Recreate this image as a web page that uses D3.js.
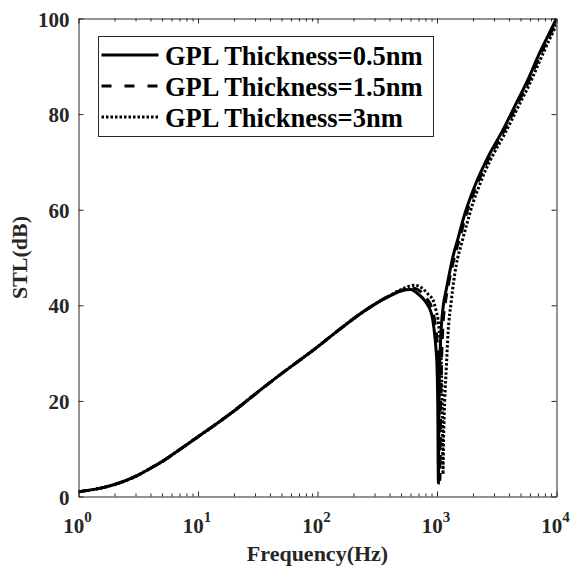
<!DOCTYPE html>
<html>
<head>
<meta charset="utf-8">
<script src="https://cdn.jsdelivr.net/npm/d3@7"></script>
<style>
  html, body { margin: 0; padding: 0; background: #fff; }
  svg { display: block; }
  text { font-family: "Liberation Serif", "Times New Roman", serif; font-weight: bold; }
</style>
</head>
<body>
<svg id="chart" width="572" height="568"></svg>
<script>
// Sound transmission loss vs. frequency for three GPL thicknesses
const seriesNames = ["GPL Thickness=0.5nm", "GPL Thickness=1.5nm", "GPL Thickness=3nm"];

const freqThin = [1, 1.5, 2, 3, 4, 5, 7, 10, 15, 20, 30, 50, 70, 100, 150, 200, 300, 400, 500, 600,
  700, 800, 900, 950, 980, 1000, 1015, 1027, 1035, 1045, 1065, 1090, 1130, 1200, 1360, 1500,
  1702, 1900, 2129, 2400, 2748, 3548, 4446, 5741, 7190, 8300, 10000];
const stlThin = [1.0, 1.7, 2.5, 4.2, 5.9, 7.3, 9.8, 12.5, 15.6, 17.9, 21.4, 25.7, 28.4, 31.3, 34.8, 37.2, 40.2, 41.9, 43.0, 43.3,
  42.3, 40.8, 38.2, 34.5, 31.0, 27.2, 19.0, 2.8, 14.0, 24.0, 31.0, 36.0, 40.0, 43.5, 50.2, 54.0,
  59.0, 62.5, 65.7, 68.6, 71.6, 76.6, 81.5, 87.1, 92.7, 95.9, 100];

const freqMid = [1, 1.5, 2, 3, 4, 5, 7, 10, 15, 20, 30, 50, 70, 100, 150, 200, 300, 400, 500, 620,
  720, 820, 900, 960, 1000, 1025, 1045, 1058, 1068, 1080, 1100, 1125, 1170, 1240, 1400, 1545,
  1753, 1957, 2193, 2472, 2830, 3654, 4580, 5913, 7406, 8550, 10000];
const stlMid = [1.0, 1.7, 2.5, 4.2, 5.9, 7.3, 9.8, 12.5, 15.6, 17.9, 21.4, 25.7, 28.4, 31.3, 34.8, 37.2, 40.2, 42.0, 43.1, 43.6,
  43.0, 41.4, 39.6, 36.5, 32.5, 27.0, 17.0, 3.5, 14.0, 23.0, 31.0, 36.3, 40.3, 44.0, 50.2, 54.0,
  59.0, 62.5, 65.7, 68.6, 71.6, 76.6, 81.5, 87.1, 92.7, 95.9, 99.4];

const freqThick = [1, 1.5, 2, 3, 4, 5, 7, 10, 15, 20, 30, 50, 70, 100, 150, 200, 300, 400, 500, 650,
  750, 850, 930, 980, 1020, 1055, 1088, 1109, 1122, 1135, 1160, 1197, 1237, 1318, 1450, 1600,
  1800, 2010, 2260, 2540, 2910, 3760, 4710, 6080, 7620, 8800, 10000];
const stlThick = [1.0, 1.7, 2.5, 4.2, 5.9, 7.3, 9.8, 12.5, 15.6, 17.9, 21.4, 25.7, 28.4, 31.3, 34.8, 37.2, 40.2, 42.0, 43.3, 44.2,
  43.6, 42.2, 41.0, 39.0, 37.0, 33.4, 27.2, 16.7, 4.7, 12.0, 20.0, 27.0, 34.1, 41.0, 48.5, 52.8,
  57.5, 61.6, 65.0, 68.2, 71.2, 76.3, 81.2, 86.8, 92.4, 95.8, 98.7];

const xMajorTicks = [1, 10, 100, 1000, 10000];
const xExponents = ["0", "1", "2", "3", "4"];
const yTicks = [0, 20, 40, 60, 80, 100];

const svg = d3.select("#chart");
const plot = { left: 78.5, right: 556.5, top: 18.5, bottom: 496.5 };

const x = d3.scaleLog().domain([1, 10000]).range([plot.left, plot.right]);
const y = d3.scaleLinear().domain([0, 100]).range([plot.bottom, plot.top]);

const axisColor = "#262626";

// clip region for curves
svg.append("defs").append("clipPath").attr("id", "plotClip")
  .append("rect")
  .attr("x", plot.left).attr("y", plot.top)
  .attr("width", plot.right - plot.left).attr("height", plot.bottom - plot.top);

// curves
const series = [
  { name: seriesNames[0], f: freqThin, v: stlThin, dash: null },
  { name: seriesNames[1], f: freqMid, v: stlMid, dash: "10,8" },
  { name: seriesNames[2], f: freqThick, v: stlThick, dash: "2.5,2" }
];

const line = d3.line()
  .x(d => x(d[0]))
  .y(d => y(d[1]))
  .curve(d3.curveMonotoneX);

const curves = svg.append("g").attr("clip-path", "url(#plotClip)");
series.forEach(s => {
  curves.append("path")
    .datum(d3.zip(s.f, s.v))
    .attr("d", line)
    .attr("fill", "none")
    .attr("stroke", "#000")
    .attr("stroke-width", 3)
    .attr("stroke-dasharray", s.dash);
});

// minor ticks for the log axis (2..9 within each decade)
const xMinorTicks = [];
for (let d = 0; d < 4; d++) {
  for (let m = 2; m <= 9; m++) xMinorTicks.push(m * Math.pow(10, d));
}

function styleAxis(g) {
  g.selectAll(".domain").attr("stroke", axisColor).attr("stroke-width", 1);
  g.selectAll(".tick line").attr("stroke", axisColor).attr("stroke-width", 1);
}

// bottom axis
const gBottom = svg.append("g").attr("transform", `translate(0,${plot.bottom})`)
  .call(d3.axisBottom(x).tickValues(xMajorTicks).tickSizeInner(-5).tickSizeOuter(0).tickFormat(""))
  .call(styleAxis);
gBottom.selectAll(".tick text").remove();
svg.append("g").attr("transform", `translate(0,${plot.bottom})`)
  .call(d3.axisBottom(x).tickValues(xMinorTicks).tickSizeInner(-3).tickSizeOuter(0).tickFormat(""))
  .call(g => g.select(".domain").remove())
  .call(g => g.selectAll(".tick text").remove())
  .call(styleAxis);

// x tick labels as powers of ten
gBottom.selectAll(".tick").each(function (d, i) {
  const t = d3.select(this).append("text")
    .attr("x", -1.5)
    .attr("y", 36.5)
    .attr("fill", axisColor)
    .attr("text-anchor", "middle")
    .style("font-size", "21px");
  t.append("tspan").text("10");
  t.append("tspan").attr("dy", -11.5).style("font-size", "15px").text(xExponents[i]);
});

// top axis
svg.append("g").attr("transform", `translate(0,${plot.top})`)
  .call(d3.axisTop(x).tickValues(xMajorTicks).tickSizeInner(-5).tickSizeOuter(0).tickFormat(""))
  .call(g => g.selectAll(".tick text").remove())
  .call(styleAxis);
svg.append("g").attr("transform", `translate(0,${plot.top})`)
  .call(d3.axisTop(x).tickValues(xMinorTicks).tickSizeInner(-3).tickSizeOuter(0).tickFormat(""))
  .call(g => g.select(".domain").remove())
  .call(g => g.selectAll(".tick text").remove())
  .call(styleAxis);

// left axis
svg.append("g").attr("transform", `translate(${plot.left},0)`)
  .call(d3.axisLeft(y).tickValues(yTicks).tickSizeInner(-5).tickSizeOuter(0).tickPadding(9))
  .call(styleAxis)
  .call(g => g.selectAll(".tick text")
    .attr("fill", axisColor)
    .attr("dy", "0.36em")
    .style("font-size", "21px")
    .style("font-family", "'Liberation Serif', 'Times New Roman', serif")
    .style("font-weight", "bold"));

// right axis
svg.append("g").attr("transform", `translate(${plot.right},0)`)
  .call(d3.axisRight(y).tickValues(yTicks).tickSizeInner(-5).tickSizeOuter(0).tickFormat(""))
  .call(g => g.selectAll(".tick text").remove())
  .call(styleAxis);

// axis titles
svg.append("text")
  .attr("x", (plot.left + plot.right) / 2)
  .attr("y", 561)
  .attr("text-anchor", "middle")
  .attr("fill", axisColor)
  .style("font-size", "22px")
  .text("Frequency(Hz)");

svg.append("text")
  .attr("transform", `translate(27,${(plot.top + plot.bottom) / 2}) rotate(-90)`)
  .attr("text-anchor", "middle")
  .attr("fill", axisColor)
  .style("font-size", "22px")
  .text("STL(dB)");

// legend
const legend = svg.append("g");
legend.append("rect")
  .attr("x", 98.5).attr("y", 36.5)
  .attr("width", 335).attr("height", 100)
  .attr("fill", "#fff")
  .attr("stroke", axisColor)
  .attr("stroke-width", 1);

const legendRows = [55, 86, 117];
series.forEach((s, i) => {
  legend.append("line")
    .attr("x1", 101.5).attr("x2", 158.5)
    .attr("y1", legendRows[i]).attr("y2", legendRows[i])
    .attr("stroke", "#000")
    .attr("stroke-width", 3)
    .attr("stroke-dasharray", i === 1 ? "10,13" : s.dash);
  legend.append("text")
    .attr("x", 165)
    .attr("y", legendRows[i] + 10)
    .attr("fill", "#000")
    .style("font-size", "26.5px")
    .text(s.name);
});
</script>
</body>
</html>
